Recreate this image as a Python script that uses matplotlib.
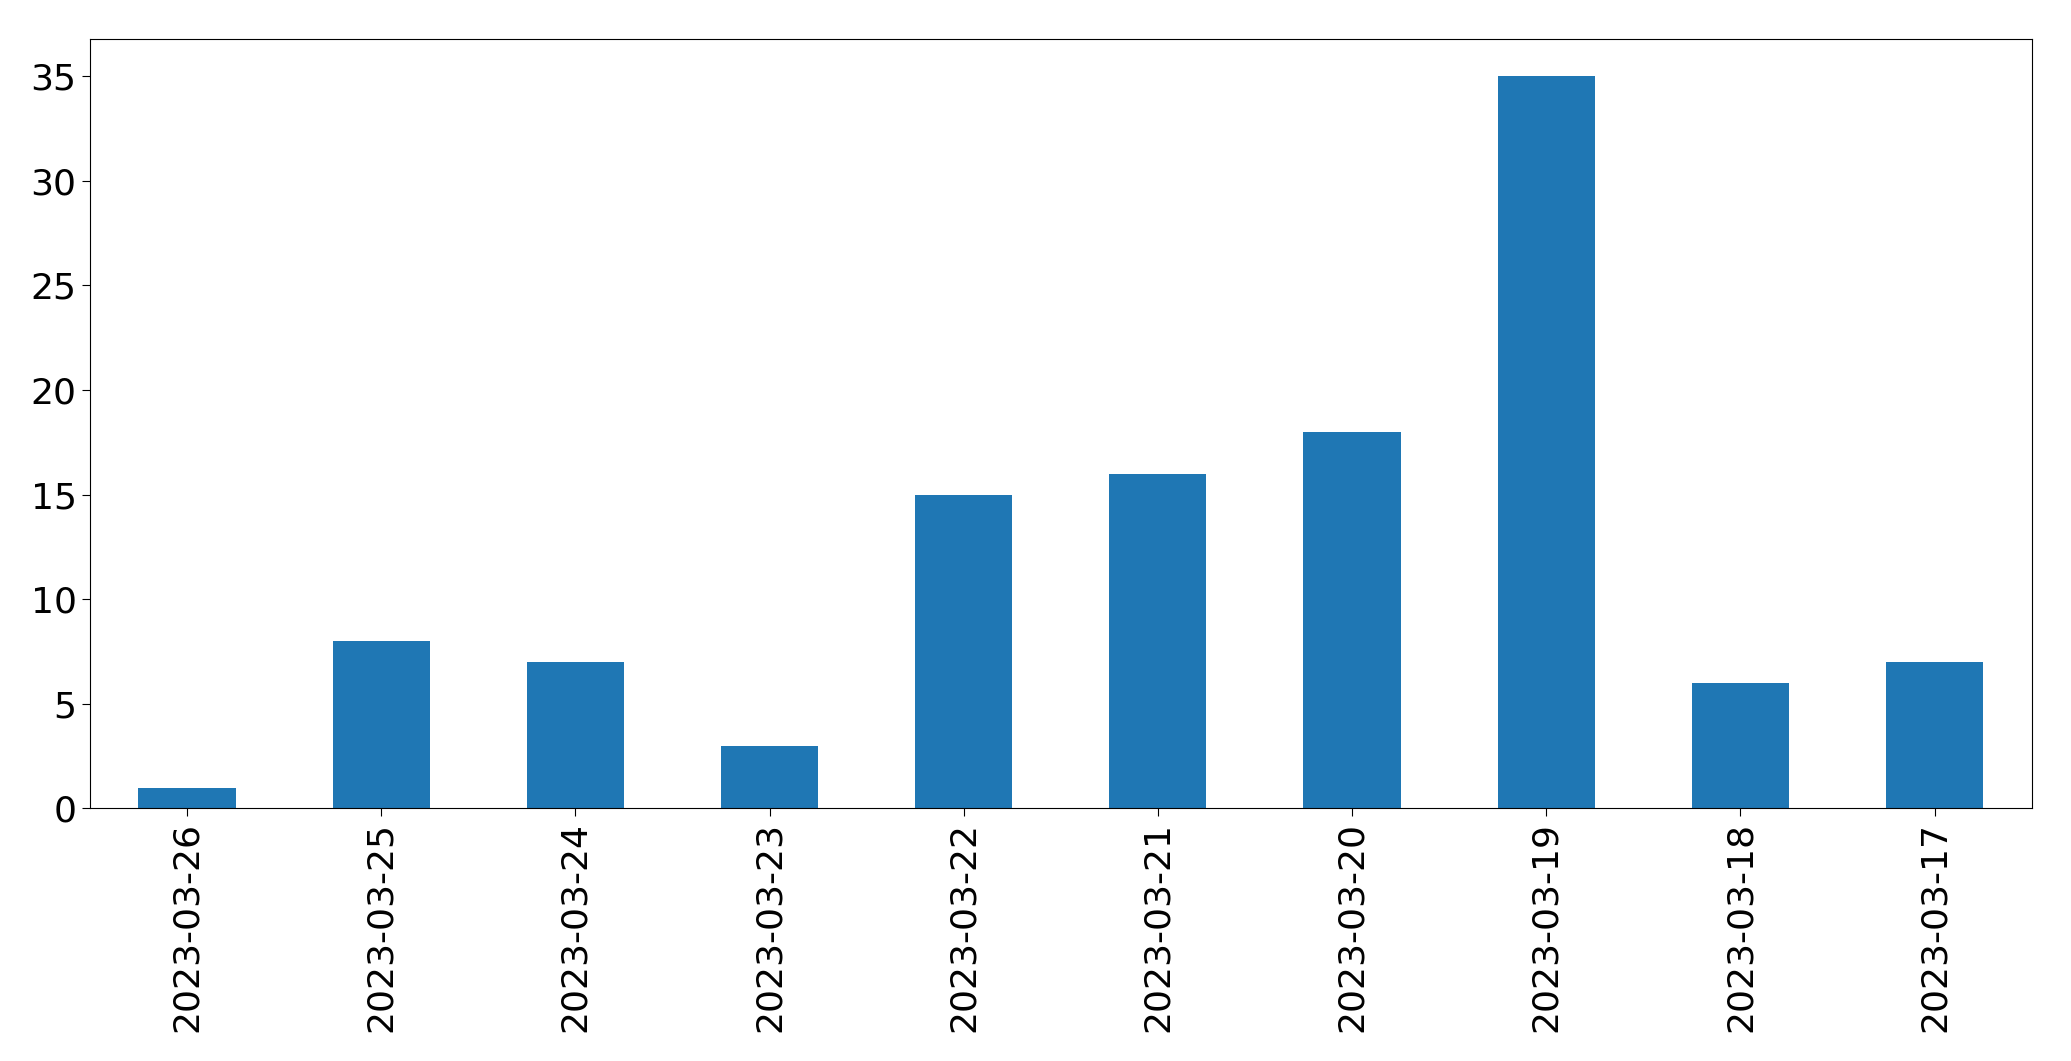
import matplotlib
matplotlib.use("Agg")
import matplotlib.pyplot as plt

dates = ["2023-03-26","2023-03-25","2023-03-24","2023-03-23","2023-03-22",
         "2023-03-21","2023-03-20","2023-03-19","2023-03-18","2023-03-17"]
counts = [1, 8, 7, 3, 15, 16, 18, 35, 6, 7]

fig = plt.figure(figsize=(20.71, 10.61), dpi=100)
ax = fig.add_axes([0.0434, 0.238, 0.9376, 0.725])
x = range(len(dates))
ax.bar(x, counts, width=0.5, color="#1f77b4")
ax.set_xticks(list(x))
ax.set_xticklabels(dates, rotation=90)
ax.set_xlim(-0.5, len(dates) - 0.5)
ax.set_ylim(0, 36.75)
ax.tick_params(labelsize=26, length=6)
fig.savefig("out.png", dpi=100)
